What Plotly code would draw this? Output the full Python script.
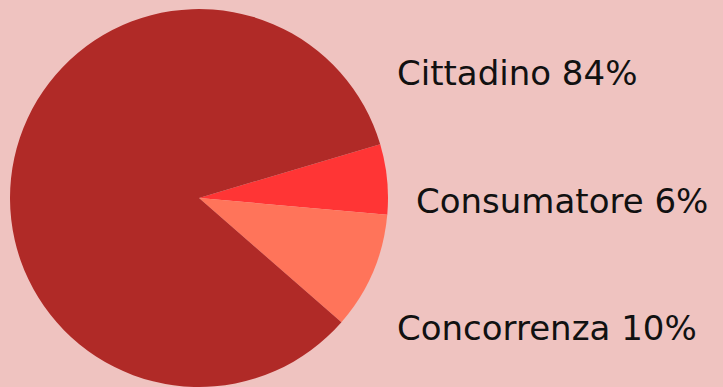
import plotly.graph_objects as go

labels = ["Consumatore", "Concorrenza", "Cittadino"]
values = [6, 10, 84]
colors = ["#FF3535", "#FF745A", "#B02A27"]
label_text = ["Consumatore 6%", "Concorrenza 10%", "Cittadino 84%"]

W, H = 723, 387
cx, r = 199, 189

fig = go.Figure(go.Pie(
    labels=labels, values=values, sort=False, direction="clockwise",
    rotation=73.5, marker=dict(colors=colors, line=dict(width=0)),
    textinfo="none", hoverinfo="label+percent",
    domain=dict(x=[(cx - r) / W, (cx + r) / W], y=[0, 2 * r / H]),
    showlegend=False,
))

pos = {"Cittadino": (395, 73), "Consumatore": (414, 201), "Concorrenza": (395, 328)}
for lab, txt in zip(labels, label_text):
    x, y = pos[lab]
    fig.add_annotation(text=txt, x=x / W, y=1 - y / H, xref="paper", yref="paper",
                       xanchor="left", yanchor="middle", showarrow=False,
                       font=dict(family="DejaVu Sans", size=34, color="#111111"))

fig.update_layout(width=W, height=H, margin=dict(l=0, r=0, t=0, b=0),
                  paper_bgcolor="#EFC3C0", plot_bgcolor="#EFC3C0")
fig.write_html("out.html")
